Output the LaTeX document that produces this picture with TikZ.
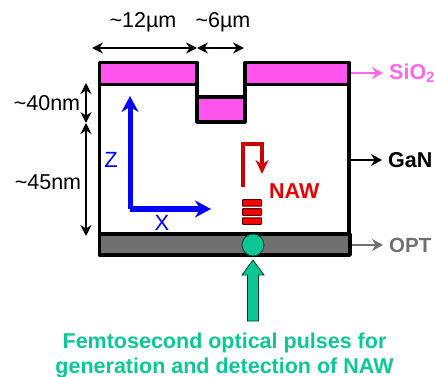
\documentclass[tikz,border=0pt]{standalone}
\usepackage{fontspec}
\setmainfont{Liberation Sans}
\usetikzlibrary{arrows.meta}
\tikzset{>=stealth}
\definecolor{pinkox}{HTML}{FF55EE}
\definecolor{pinklab}{HTML}{FF66F0}
\definecolor{greyopt}{HTML}{707070}
\definecolor{tealfs}{HTML}{0CC795}
\definecolor{redaw}{HTML}{CC0000}
\tikzset{
  layer/.style={draw=black, line width=3.6pt, line join=round},
  dim/.style={<->, line width=1.5pt, >={Stealth[length=11pt,width=11pt]}},
  dimlab/.style={font=\fontsize{21.5}{24}\selectfont, inner sep=0pt},
  axis/.style={->, blue, line width=5pt, >={Stealth[length=16pt,width=17pt]}},
  axislab/.style={blue, font=\fontsize{22}{24}\selectfont, inner sep=0pt},
  matlab/.style={font=\bfseries\fontsize{21.5}{24}\selectfont, inner sep=0pt, anchor=west},
  tag/.style={->, line width=1.6pt, shorten >=6pt, >={Stealth[length=11pt,width=12pt]}},
  qw/.style={draw=black!70!red, line width=1pt, fill=red, minimum width=19pt, minimum height=6.5pt, inner sep=0pt, rounded corners=0.5pt}
}
\begin{document}
\begin{tikzpicture}[x=1pt,y=-1pt]
    \useasboundingbox (0,0) rectangle (434,377);
    % layers
    \draw[layer, fill=white] (99.5,84.5) -- (197,84.5) -- (197,122) -- (245,122) -- (245,84.5) -- (349,84.5) -- (349,234) -- (99.5,234) -- cycle;
    \draw[layer, fill=pinkox] (99.5,62.5) rectangle (197,84.5);
    \draw[layer, fill=pinkox] (245,62.5) rectangle (349,84.5);
    \draw[layer, fill=pinkox] (197,97) rectangle (245,122);
    \draw[layer, fill=greyopt] (99.5,234) rectangle (350,255);
    % sizes
    \coordinate (a1) at (92,48);
    \coordinate (a2) at (197,48);
    \coordinate (a3) at (244,48);
    \coordinate (b1) at (86,83);
    \coordinate (b2) at (86,123);
    \coordinate (b3) at (86,236);
    \draw[dim] (a1) -- (a2);
    \draw[dim] (a2) -- (a3);
    \draw[dim] (b1) -- (b2);
    \draw[dim] (b2) -- (b3);
    \node[dimlab] (wide) at (143,22) {\char`\~12µm};
    \node[dimlab] (narrow) at (223,22) {\char`\~6µm};
    \node[dimlab] (top) at (47,103) {\char`\~40nm};
    \node[dimlab] (bottom) at (48,182) {\char`\~45nm};
    % axes
    \coordinate (o) at (130,209);
    \coordinate (zend) at (130,96);
    \coordinate (xend) at (211,209);
    \draw[axis] (o) -- (zend);
    \draw[axis] (o) -- (xend);
    \node[axislab] (zlab) at (111,160) {Z};
    \node[axislab] (xlab) at (162,223) {X};
    % wave
    \coordinate (w1) at (243,187);
    \coordinate (w2) at (243,144);
    \coordinate (w3) at (262,144);
    \coordinate (w4) at (262,174);
    \draw[->, redaw, line width=3.4pt, >={Stealth[length=14pt,width=13pt]}] (w1) -- (w2) -- (w3) -- (w4);
    \node[matlab, text=red!90!black] (naw) at (269,191) {NAW};
    \foreach \y/\n in {203/q1,212/q2,221/q3}
    \node[qw] (\n) at (252,\y) {};
    % pulses
    \node[circle, draw=black!70!tealfs, line width=0.8pt, fill=tealfs, minimum size=22pt, inner sep=0pt] (spot) at (253,245) {};
    \draw[draw=black!70!tealfs, line width=0.8pt, fill=tealfs] (253,260) -- (264,275) -- (258.5,275) -- (258.5,321) -- (247.5,321) -- (247.5,275) -- (242,275) -- cycle;
    \node[font=\bfseries\fontsize{21.5}{25}\selectfont, text=tealfs, align=center, inner sep=0pt] (pulse) at (224.5,355) {Femtosecond optical pulses for\\generation and detection of NAW};
    % materials
    \node[matlab, pinklab] (sio) at (389,73) {SiO\textsubscript{2}};
    \node[matlab] (gan) at (388,160) {GaN};
    \node[matlab, greyopt, font=\bfseries\fontsize{20.5}{24}\selectfont] (opt) at (389,245) {OPT};
    \coordinate (s0) at (351,73);
    \coordinate (g0) at (351,160);
    \coordinate (p0) at (352,245);
    \draw[tag, pinklab] (s0) -- (sio.west);
    \draw[tag] (g0) -- (gan.west);
    \draw[tag, greyopt] (p0) -- (opt.west);
\end{tikzpicture}
\end{document}
